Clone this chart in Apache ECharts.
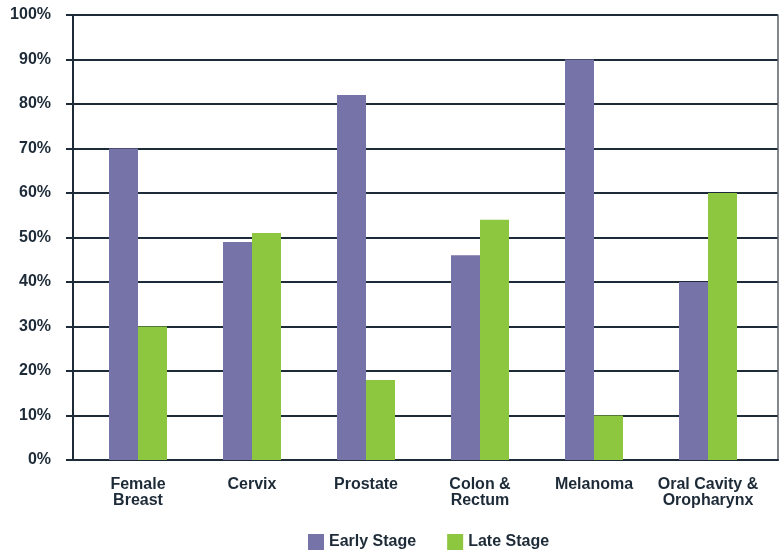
<!DOCTYPE html>
<html>
<head>
<meta charset="utf-8">
<script src="https://cdn.jsdelivr.net/npm/echarts@6/dist/echarts.min.js"></script>
<style>
  html, body { margin: 0; padding: 0; background: #fff; }
  #chart { width: 782px; height: 554px; }
</style>
</head>
<body>
<div id="chart"></div>
<script>
// Share of cases diagnosed at early vs. late stage, by cancer site
const categories = ['Female\nBreast', 'Cervix', 'Prostate', 'Colon &\nRectum', 'Melanoma', 'Oral Cavity &\nOropharynx'];
const earlyStage = [70, 49, 82, 46, 90, 40];
const lateStage = [30, 51, 18, 54, 10, 60];
const seriesNames = ['Early Stage', 'Late Stage'];

const ink = '#1d2a37';
const font = '"Liberation Sans", Arial, sans-serif';

const chart = echarts.init(document.getElementById('chart'));
chart.setOption({
  animation: false,
  textStyle: { fontFamily: font },
  grid: [
    // frame with the percentage axis and gridlines
    { left: 73, right: 4, top: 15, bottom: 94 },
    // narrower band holding the bars
    { left: 81, right: 17, top: 15, bottom: 94 }
  ],
  legend: {
    data: seriesNames,
    left: 308,
    top: 534,
    padding: 0,
    icon: 'rect',
    itemWidth: 16,
    itemHeight: 16,
    itemGap: 31,
    textStyle: { fontFamily: font, fontSize: 16, fontWeight: 'bold', color: ink, padding: [0, 0, 0, 0] }
  },
  xAxis: [
    {
      gridIndex: 0, type: 'category', data: categories,
      axisLine: { show: true, lineStyle: { color: ink, width: 2 } },
      axisTick: { show: false }, axisLabel: { show: false }, splitLine: { show: false }
    },
    {
      gridIndex: 1, type: 'category', data: categories,
      axisLine: { show: false }, axisTick: { show: false },
      axisLabel: {
        margin: 17, fontFamily: font, fontSize: 16, fontWeight: 'bold',
        color: ink, lineHeight: 16, interval: 0
      }
    }
  ],
  yAxis: [
    {
      gridIndex: 0, type: 'value', min: 0, max: 100, interval: 10,
      axisLine: { show: true, lineStyle: { color: ink, width: 2 } },
      axisTick: { show: true, length: 7, lineStyle: { color: ink, width: 2 } },
      axisLabel: {
        margin: 22, formatter: '{value}%', fontFamily: font, fontSize: 16,
        fontWeight: 'bold', color: ink
      },
      splitLine: { show: true, lineStyle: { color: ink, width: 2 } }
    },
    {
      gridIndex: 0, type: 'value', min: 0, max: 100, interval: 10, position: 'right',
      axisLine: { show: true, lineStyle: { color: '#5a6168', width: 1.5 } },
      axisTick: { show: false }, axisLabel: { show: false }, splitLine: { show: false }
    },
    {
      gridIndex: 1, type: 'value', min: 0, max: 100, interval: 10, show: false
    }
  ],
  series: [
    {
      name: seriesNames[0], type: 'bar', xAxisIndex: 1, yAxisIndex: 2,
      data: earlyStage, barWidth: 29, barGap: '0%',
      itemStyle: { color: '#7673a8' }
    },
    {
      name: seriesNames[1], type: 'bar', xAxisIndex: 1, yAxisIndex: 2,
      data: lateStage, barWidth: 29, barGap: '0%',
      itemStyle: { color: '#8dc63f' }
    }
  ]
});
</script>
</body>
</html>
